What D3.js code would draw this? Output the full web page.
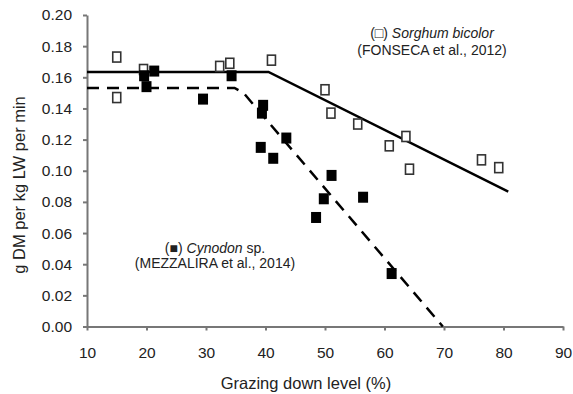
<!DOCTYPE html>
<html>
<head>
<meta charset="utf-8">
<script src="https://cdn.jsdelivr.net/npm/d3@7"></script>
<style>
  body { margin: 0; background: #fff; }
  svg { display: block; font-family: "Liberation Sans", Arial, sans-serif; }
</style>
</head>
<body>
<svg id="chart" width="573" height="394"></svg>
<script>
// Sorghum bicolor (open squares) - FONSECA et al., 2012
const sorghumX = [15, 15, 19.5, 32.3, 34, 41, 50, 51, 55.5, 60.8, 63.6, 64.2, 76.3, 79.2];
const sorghumY = [0.173, 0.147, 0.165, 0.167, 0.169, 0.171, 0.152, 0.137, 0.130, 0.116, 0.122, 0.101, 0.107, 0.102];

// Cynodon sp. (filled squares) - MEZZALIRA et al., 2014
const cynodonX = [19.6, 20, 21.3, 29.5, 34.3, 39.6, 39.4, 39.2, 41.3, 43.5, 51.1, 49.8, 48.5, 56.4, 61.2];
const cynodonY = [0.161, 0.154, 0.164, 0.146, 0.161, 0.142, 0.137, 0.115, 0.108, 0.121, 0.097, 0.082, 0.070, 0.083, 0.034];

// broken-line fits
const sorghumLineX = [10, 40.5, 80.8];
const sorghumLineY = [0.1634, 0.1634, 0.0866];
const cynodonLineX = [10, 34.8, 36.3, 69.8];
const cynodonLineY = [0.1532, 0.1532, 0.150, 0];

const xTicks = [10, 20, 30, 40, 50, 60, 70, 80, 90];
const yTicks = [0, 0.02, 0.04, 0.06, 0.08, 0.10, 0.12, 0.14, 0.16, 0.18, 0.20];

const svg = d3.select("#chart");
const x = d3.scaleLinear().domain([10, 90]).range([87, 563]);
const y = d3.scaleLinear().domain([0, 0.2]).range([326.5, 15]);

const axisColor = "#777";
const textColor = "#222";

// x axis
const xAxis = svg.append("g")
  .attr("transform", "translate(0," + y(0) + ")")
  .call(d3.axisBottom(x).tickValues(xTicks).tickSize(4).tickSizeOuter(0).tickPadding(16));
xAxis.select(".domain").attr("stroke", axisColor).attr("stroke-width", 2);
xAxis.selectAll(".tick line").attr("stroke", axisColor).attr("stroke-width", 2);
xAxis.selectAll(".tick text").attr("fill", textColor).style("font-size", "15.5px");

// y axis
const yAxis = svg.append("g")
  .attr("transform", "translate(" + x(10) + ",0)")
  .call(d3.axisLeft(y).tickValues(yTicks).tickFormat(d3.format(".2f")).tickSize(4).tickSizeOuter(0).tickPadding(11));
yAxis.select(".domain").attr("stroke", axisColor).attr("stroke-width", 2);
yAxis.selectAll(".tick line").attr("stroke", axisColor).attr("stroke-width", 2);
yAxis.selectAll(".tick text").attr("fill", textColor).style("font-size", "15.5px");

// axis titles
svg.append("text")
  .attr("x", 306).attr("y", 389)
  .attr("text-anchor", "middle")
  .attr("fill", textColor)
  .style("font-size", "16.5px")
  .text("Grazing down level (%)");

svg.append("text")
  .attr("transform", "translate(25,185) rotate(-90)")
  .attr("text-anchor", "middle")
  .attr("fill", textColor)
  .style("font-size", "16.5px")
  .text("g DM per kg LW per min");

// fitted lines
const line = d3.line().x(d => x(d[0])).y(d => y(d[1]));

svg.append("path")
  .datum(sorghumLineX.map((v, i) => [v, sorghumLineY[i]]))
  .attr("d", line)
  .attr("fill", "none")
  .attr("stroke", "#000")
  .attr("stroke-width", 2.5);

svg.append("path")
  .datum(cynodonLineX.map((v, i) => [v, cynodonLineY[i]]))
  .attr("d", line)
  .attr("fill", "none")
  .attr("stroke", "#000")
  .attr("stroke-width", 2.5)
  .attr("stroke-dasharray", "12,8");

// markers
svg.append("g").selectAll("rect")
  .data(sorghumX.map((v, i) => [v, sorghumY[i]]))
  .enter().append("rect")
  .attr("x", d => x(d[0]) - 4)
  .attr("y", d => y(d[1]) - 5)
  .attr("width", 8)
  .attr("height", 10)
  .attr("fill", "#fff")
  .attr("stroke", "#333")
  .attr("stroke-width", 1.6);

svg.append("g").selectAll("rect")
  .data(cynodonX.map((v, i) => [v, cynodonY[i]]))
  .enter().append("rect")
  .attr("x", d => x(d[0]) - 5)
  .attr("y", d => y(d[1]) - 5.5)
  .attr("width", 10)
  .attr("height", 11)
  .attr("fill", "#000");

// legends
const leg1 = svg.append("text")
  .attr("x", 432).attr("y", 38)
  .attr("text-anchor", "middle")
  .attr("fill", textColor)
  .style("font-size", "14px");
leg1.append("tspan").text("(\u25A1) ");
leg1.append("tspan").style("font-style", "italic").text("Sorghum bicolor");
svg.append("text")
  .attr("x", 432).attr("y", 55)
  .attr("text-anchor", "middle")
  .attr("fill", textColor)
  .style("font-size", "14px")
  .text("(FONSECA et al., 2012)");

const leg2 = svg.append("text")
  .attr("x", 215).attr("y", 253)
  .attr("text-anchor", "middle")
  .attr("fill", textColor)
  .style("font-size", "14px");
leg2.append("tspan").text("(\u25A0) ");
leg2.append("tspan").style("font-style", "italic").text("Cynodon");
leg2.append("tspan").text(" sp.");
svg.append("text")
  .attr("x", 215).attr("y", 268)
  .attr("text-anchor", "middle")
  .attr("fill", textColor)
  .style("font-size", "14px")
  .text("(MEZZALIRA et al., 2014)");
</script>
</body>
</html>
